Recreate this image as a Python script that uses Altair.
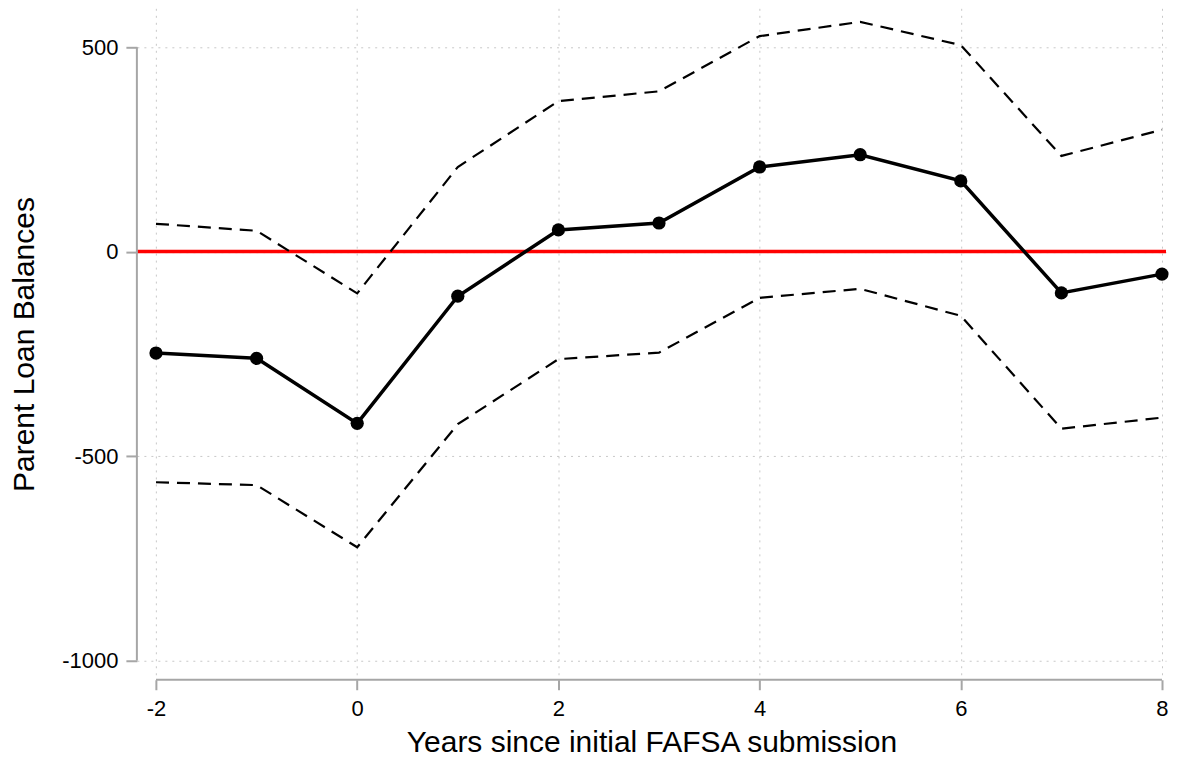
import altair as alt
import pandas as pd

years = [-2, -1, 0, 1, 2, 3, 4, 5, 6, 7, 8]
coef = [-248, -261, -420, -109, 53, 70, 207, 237, 173, -101, -55]
upper = [68, 51, -102, 207, 368, 392, 527, 562, 505, 234, 298]
lower = [-564, -571, -723, -422, -263, -247, -113, -91, -157, -433, -406]

x_ticks = [-2, 0, 2, 4, 6, 8]
y_ticks = [-1000, -500, 0, 500]

W, H = 1030, 672
FONT = "Liberation Sans"
AX = "#a6a6a6"

df = pd.DataFrame({"year": years, "coef": coef})
ci = pd.DataFrame({
    "year": years * 2,
    "coef": upper + lower,
    "band": ["upper"] * len(years) + ["lower"] * len(years),
})

xs = alt.Scale(domain=[-2.19, 8.04], nice=False, zero=False)
ys = alt.Scale(domain=[-1047, 595], nice=False, zero=False)

xax = alt.Axis(values=x_ticks, title="Years since initial FAFSA submission", domain=False,
               labelExpr="'' + datum.value",
               tickSize=10, tickWidth=2, tickColor=AX, labelPadding=9,
               labelFontSize=22, titleFontSize=30, titleFontWeight="normal",
               labelFont=FONT, titleFont=FONT, labelColor="#000", titleColor="#000",
               titlePadding=8, grid=True, gridDash=[2, 5], gridColor="#c8c8c8", gridWidth=1)
yax = alt.Axis(values=y_ticks, title="Parent Loan Balances", domain=False,
               labelExpr="'' + datum.value",
               tickSize=11, tickWidth=2, tickColor=AX, labelPadding=8,
               labelFontSize=22, titleFontSize=30, titleFontWeight="normal",
               labelFont=FONT, titleFont=FONT, labelColor="#000", titleColor="#000",
               titlePadding=22, grid=True, gridDash=[2, 5], gridColor="#c8c8c8", gridWidth=1)

X = alt.X("year:Q", scale=xs, axis=xax, title="Years since initial FAFSA submission")
Y = alt.Y("coef:Q", scale=ys, axis=yax, title="Parent Loan Balances")

zero = alt.Chart(pd.DataFrame({"coef": [0]})).mark_rule(color="#ff0000", strokeWidth=3.5).encode(
    y=Y
)

bands = alt.Chart(ci).mark_line(color="black", strokeWidth=2.2, strokeDash=[13, 8]).encode(
    x=X, y=Y, detail="band:N",
)

main = alt.Chart(df).mark_line(color="black", strokeWidth=3.5, point=alt.OverlayMarkDef(
    filled=True, color="black", size=175, opacity=1)).encode(x=X, y=Y)

y_line = alt.Chart(pd.DataFrame({"lo": [-1000], "coef": [500]})).mark_rule(
    color=AX, strokeWidth=2).encode(x=alt.value(0), y=Y, y2="lo:Q")
x_line = alt.Chart(pd.DataFrame({"year": [-2], "hi": [8]})).mark_rule(
    color=AX, strokeWidth=2).encode(y=alt.value(H), x=X, x2="hi:Q")

chart = alt.layer(zero, bands, main, y_line, x_line).properties(
    width=W, height=H, padding={"left": 1, "top": 0, "right": 0, "bottom": 0}
).configure(background="white").configure_view(stroke=None)

chart.save("out.html", embed_options={"renderer": "svg", "actions": False})
